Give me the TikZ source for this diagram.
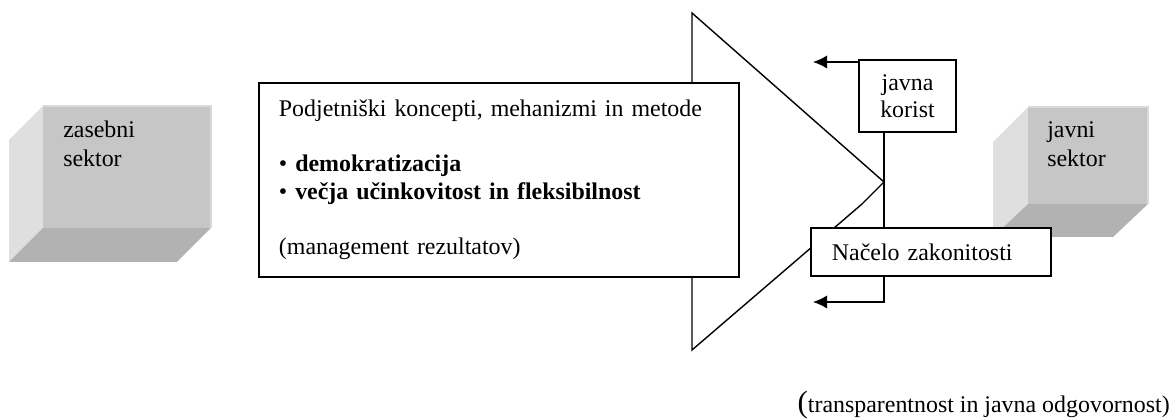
\documentclass[tikz,border=0pt]{standalone}
\usepackage{fontspec}
\setmainfont{Liberation Serif}
\usetikzlibrary{arrows.meta,positioning}

\begin{document}
\begin{tikzpicture}[x=0.025cm, y=-0.025cm]
%coordinates are in pixels of the original figure
\tikzstyle{okvir}=[draw, fill=white, line width=1pt, font=\fontsize{17}{19.6}\selectfont]
\tikzstyle{besedilo}=[inner sep=0pt, align=left, font=\fontsize{17}{20.6}\selectfont]
\tikzstyle{puscica}=[-{Latex[length=0.35cm,width=0.33cm]}, line width=1pt]
\useasboundingbox (0,0) rectangle (1173,419);
% zasebni sektor
\fill[gray!25] (43,106) -- (9,140) -- (9,262) -- (43,228) -- cycle;
\fill[gray!80!white!75] (43,228) -- (211,228) -- (177,262) -- (9,262) -- cycle;
\fill[gray!45] (43,106) rectangle (211,228);
\draw[gray!30, line width=1pt] (43,106) -- (211,106) -- (211,228);
\node[besedilo, anchor=north west](zasebni) at (63,121) {zasebni\\sektor};
% javni sektor
\fill[gray!25] (1028,107) -- (993,142) -- (993,237) -- (1028,204) -- cycle;
\fill[gray!80!white!75] (1028,204) -- (1148,204) -- (1113,237) -- (993,237) -- cycle;
\fill[gray!45] (1028,107) rectangle (1148,204);
\draw[gray!30, line width=1pt] (1028,107) -- (1148,107) -- (1148,204);
\node[besedilo, anchor=north west](javni) at (1047,121) {javni\\sektor};
% velika puscica
\coordinate (vrh) at (884,182);
\draw[fill=white, line width=1pt] (692,13) -- (vrh) -- (862,204) -- (692,350) -- cycle;
\node[okvir, line width=1.3pt, minimum width=12cm, minimum height=4.85cm, text width=11cm, inner xsep=0.5cm](koncepti) at (499,180)
  {Podjetniški koncepti, mehanizmi in metode\\[19.6pt]
   • \textbf{demokratizacija}\\
   • \textbf{večja učinkovitost in fleksibilnost}\\[19.6pt]
   (management rezultatov)};
\node[okvir, minimum width=2.425cm, minimum height=1.8cm, align=center, inner sep=0pt](korist) at (907.5,96) {javna\\korist};
\draw[line width=1pt] (korist.south -| vrh) -- (vrh) -- (vrh |- 0,228);
\node[okvir, minimum height=1.2cm, text width=4.95cm, inner xsep=0.525cm, align=left](nacelo) at (931,252) {Načelo zakonitosti};
\coordinate (levo1) at (813,62);
\coordinate (levo2) at (813,302);
\draw[puscica] (korist.north west |- levo1) -- (levo1);
\draw[puscica] (nacelo.south -| vrh) |- (levo2);
\node[anchor=east, inner sep=0pt, font=\fontsize{17}{19.6}\selectfont](odgovornost) at (1170,405)
  {{\fontsize{22}{22}\selectfont(}transparentnost in javna odgovornost)};
\end{tikzpicture}
\end{document}
